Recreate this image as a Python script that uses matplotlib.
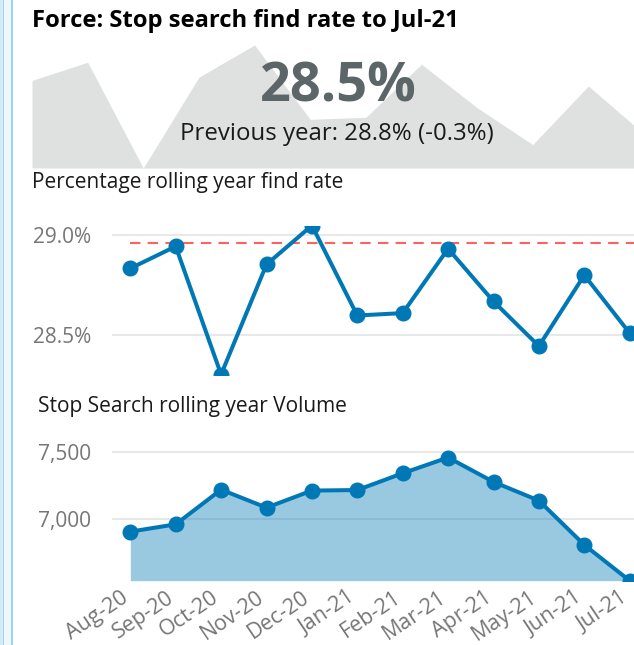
import matplotlib
matplotlib.use("Agg")
import matplotlib.pyplot as plt
import matplotlib.transforms as mtransforms
from matplotlib.patches import Rectangle
from matplotlib.ticker import FuncFormatter

plt.rcParams["font.family"] = ["Open Sans", "DejaVu Sans"]

# data
months = ["Aug-20", "Sep-20", "Oct-20", "Nov-20", "Dec-20", "Jan-21",
          "Feb-21", "Mar-21", "Apr-21", "May-21", "Jun-21", "Jul-21"]
find_rate = [28.834, 28.945, 28.30, 28.854, 29.05, 28.597,
             28.609, 28.933, 28.668, 28.443, 28.80, 28.508]
volume = [6909, 6963, 7219, 7086, 7212, 7216,
          7340, 7456, 7276, 7138, 6811, 6547]
target_rate = 28.96
current_label = "28.5%"
previous_label = "Previous year: 28.8% (-0.3%)"

W, H = 634, 645
fig = plt.figure(figsize=(W / 100, H / 100), dpi=100)
fig.patch.set_facecolor("white")


def fx(x):
    return x / W


def fy(y):
    return 1 - y / H


def box(left, top, right, bottom):
    return [fx(left), fy(bottom), (right - left) / W, (bottom - top) / H]


blue = "#0178B6"
grid_c = "#E8E8E8"
tick_c = "#767676"

# left border strip
for x0, w, c in [(0, 2.7, "#D3ECF8"), (2.7, 1.3, "#A5D6EF"),
                 (4, 7, "#EFF8FD"), (11, 2, "#9FD4EE")]:
    fig.patches.append(Rectangle((fx(x0), 0), w / W, 1, transform=fig.transFigure,
                                 facecolor=c, edgecolor="none", zorder=0))

# header sparkline in the background
xs = list(range(len(months)))
ax0 = fig.add_axes(box(32, 45, 644, 168))
ax0.fill_between(xs, find_rate, min(find_rate), color="#DFE0E0", lw=0)
ax0.set_xlim(0, len(months) - 1)
ax0.set_ylim(min(find_rate), max(find_rate))
ax0.axis("off")

fig.text(fx(32), fy(27.3), "Force: Stop search find rate to Jul-21",
         fontsize=17.1, fontweight="bold", color="black", va="baseline")
fig.text(fx(338), fy(101.7), current_label, fontsize=39, fontweight="bold",
         color="#5C6668", ha="center", va="baseline")
fig.text(fx(337), fy(140), previous_label, fontsize=17.3, color="#1A1A1A",
         ha="center", va="baseline")
fig.text(fx(32), fy(188.3), "Percentage rolling year find rate",
         fontsize=15, color="#1A1A1A", va="baseline")
fig.text(fx(38.5), fy(411.7), "Stop Search rolling year Volume",
         fontsize=15, color="#1A1A1A", va="baseline")

x_lo = -18.3 / 45.4
x_hi = len(months) - 1 + 4.3 / 45.4

# find rate line chart
ax1 = fig.add_axes(box(112, 225.5, 634, 374.5))
ax1.plot(xs, find_rate, color=blue, lw=2.9, marker="o", markersize=10.5,
         clip_on=True, zorder=3)
ax1.plot([0, x_hi], [target_rate, target_rate], color="#FD625E", lw=1.5,
         dashes=(5, 3.5), zorder=2)
ax1.set_xlim(x_lo, x_hi)
ax1.set_ylim(min(find_rate), max(find_rate))
ax1.set_yticks([28.5, 29.0])
ax1.yaxis.set_major_formatter(FuncFormatter(lambda v, p: f"{v:.1f}%"))
ax1.set_xticks([])
ax1.grid(axis="y", color=grid_c, lw=1.5)
ax1.set_axisbelow(True)

# volume area chart
ax2 = fig.add_axes(box(112, 438, 634, 580.7))
ax2.fill_between(xs, volume, min(volume), color=blue, alpha=0.4, lw=0, zorder=2)
ax2.plot(xs, volume, color=blue, lw=2.9, marker="o", markersize=10.5, zorder=3)
ax2.set_xlim(x_lo, x_hi)
ax2.set_ylim(min(volume), 7600)
ax2.set_yticks([7000, 7500])
ax2.yaxis.set_major_formatter(FuncFormatter(lambda v, p: f"{v:,.0f}"))
ax2.set_xticks(xs)
ax2.grid(axis="y", color=grid_c, lw=1.5)
ax2.set_axisbelow(True)

for ax in (ax1, ax2):
    for s in ax.spines.values():
        s.set_visible(False)
    ax.tick_params(axis="y", length=0, pad=15, labelsize=15, labelcolor=tick_c)
    ax.tick_params(axis="x", length=0, pad=4.5, labelsize=15.5, labelcolor=tick_c)
    ax.patch.set_alpha(0)

ax2.set_xticklabels(months, rotation=34, ha="right", va="top",
                    rotation_mode="anchor")
shift = mtransforms.ScaledTranslation(-10 / 100, 0, fig.dpi_scale_trans)
for lab in ax2.xaxis.get_majorticklabels():
    lab.set_transform(lab.get_transform() + shift)

fig.savefig("out.png", dpi=100)
